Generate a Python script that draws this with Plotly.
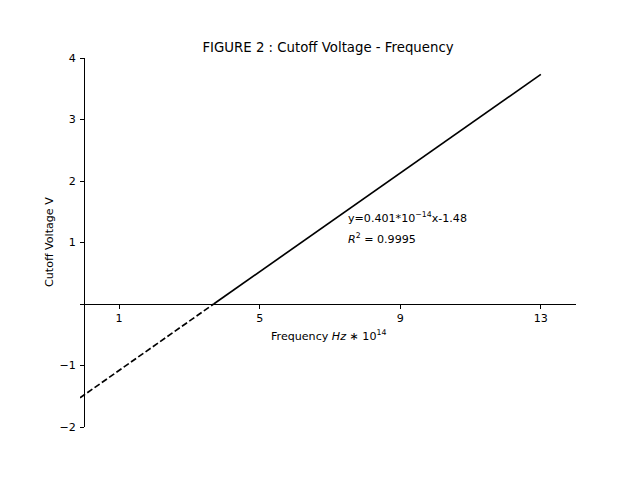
import plotly.graph_objects as go

# fitted line y = 0.401x - 1.48
solid_x = [3.69, 13.0]
solid_y = [0.0, 3.733]
dash_x = [-0.114, 3.69]
dash_y = [-1.526, 0.0]

x_range = [-0.114, 14.0]
y_range = [-2.0, 4.0]
x_ticks = [1, 5, 9, 13]
x_ticktext = ["1", "5", "9", "13"]
y_ticks = [-2, -1, 0, 1, 2, 3, 4]
y_ticktext = ["\u22122", "\u22121", "", "1", "2", "3", "4"]

title = "FIGURE 2 : Cutoff Voltage - Frequency"
xlabel = "Frequency <i>Hz</i> \u2217 10<sup>14</sup>"
ylabel = "Cutoff Voltage V"
eq_text = "y=0.401*10<sup>\u221214</sup>x-1.48"
r2_text = "<i>R</i><sup>2</sup> = 0.9995"

FONT = "DejaVu Sans"
FS = 11.1
TFS = 13.3

fig = go.Figure()
fig.add_trace(go.Scatter(x=solid_x, y=solid_y, mode="lines",
                         line=dict(color="black", width=1.67), showlegend=False))
fig.add_trace(go.Scatter(x=dash_x, y=dash_y, mode="lines",
                         line=dict(color="black", width=1.67, dash="6.2px,2.7px"),
                         showlegend=False))

ypos = (0 - x_range[0]) / (x_range[1] - x_range[0])
xpos = (0 - y_range[0]) / (y_range[1] - y_range[0])

fig.update_layout(
    width=640, height=480,
    margin=dict(l=80, r=64, t=58, b=53),
    paper_bgcolor="white", plot_bgcolor="white",
    font=dict(family=FONT, size=FS, color="black"),
    title=dict(text=title, x=0.5, xref="paper", xanchor="center",
               y=1 - 47 / 480, yref="container", yanchor="middle",
               font=dict(family=FONT, size=TFS, color="black")),
    xaxis=dict(range=x_range, showgrid=False, zeroline=False,
               showline=True, linecolor="black", linewidth=0.9,
               ticks="outside", ticklen=3.9, tickwidth=0.9, tickcolor="black",
               tickvals=x_ticks, ticktext=x_ticktext,
               tickfont=dict(family=FONT, size=FS, color="black"),
               anchor="free", position=xpos),
    yaxis=dict(range=y_range, showgrid=False, zeroline=False,
               showline=True, linecolor="black", linewidth=0.9,
               ticks="outside", ticklen=3.9, tickwidth=0.9, tickcolor="black",
               tickvals=y_ticks, ticktext=y_ticktext,
               tickfont=dict(family=FONT, size=FS, color="black"),
               ticklabelstandoff=2,
               anchor="free", position=ypos),
)

fig.add_annotation(text=xlabel, xref="paper", yref="paper", x=0.5,
                   y=(427 - 335) / 369, xanchor="center", yanchor="middle",
                   showarrow=False, font=dict(family=FONT, size=FS, color="black"))
fig.add_annotation(text=ylabel, xref="paper", yref="paper", x=(49.5 - 80) / 496,
                   y=0.5, xanchor="center", yanchor="middle", textangle=-90,
                   showarrow=False, font=dict(family=FONT, size=FS, color="black"))
fig.add_annotation(text=eq_text, xref="x", yref="y", x=7.45, y=1.41,
                   xanchor="left", yanchor="middle", showarrow=False,
                   font=dict(family=FONT, size=FS, color="black"))
fig.add_annotation(text=r2_text, xref="x", yref="y", x=7.45, y=1.07,
                   xanchor="left", yanchor="middle", showarrow=False,
                   font=dict(family=FONT, size=FS, color="black"))

fig.write_html("out.html")
